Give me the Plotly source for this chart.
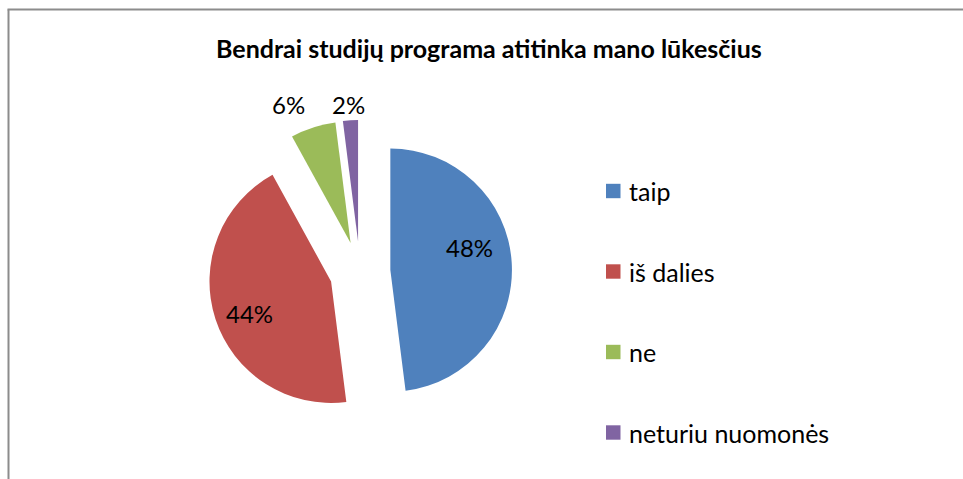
import plotly.graph_objects as go

labels = ["taip", "iš dalies", "ne", "neturiu nuomonės"]
values = [48, 44, 6, 2]
colors = ["#4F81BD", "#C0504D", "#9BBB59", "#8064A2"]
title_text = "Bendrai studijų programa atitinka mano lūkesčius"

W, H = 963, 479
FONT = "Lato"

def px(x):
    return x / W

def py(y):
    return 1 - y / H

total = sum(values)
pct_text = [f"{v / total * 100:.0f}%" for v in values]

fig = go.Figure()
fig.add_trace(go.Pie(
    labels=labels,
    values=values,
    sort=False,
    direction="clockwise",
    rotation=0,
    pull=[0.25, 0.25, 0.25, 0.25],
    marker=dict(colors=colors, line=dict(width=0)),
    textinfo="none",
    textposition="none",
    domain=dict(x=[px(208), px(512)], y=[py(424), py(120)]),
    showlegend=False,
    hoverinfo="label+percent",
))

shapes = [
    dict(type="line", xref="paper", yref="paper", x0=px(8.5), x1=px(8.5), y0=py(H + 2), y1=py(9.5),
         line=dict(color="#8c8c8c", width=2)),
    dict(type="line", xref="paper", yref="paper", x0=px(7.5), x1=px(W + 2), y0=py(9.5), y1=py(9.5),
         line=dict(color="#8c8c8c", width=2)),
]

annotations = [
    dict(text="<b>" + title_text + "</b>", xref="paper", yref="paper", x=px(489), y=py(48),
         xanchor="center", yanchor="middle", showarrow=False,
         font=dict(family=FONT, size=25, color="#000000")),
]

# data label positions (pixel centres)
label_pos = [(469.5, 248), (249.5, 313), (288, 104), (348.5, 104)]
for t, (lx, ly) in zip(pct_text, label_pos):
    annotations.append(dict(text=t, xref="paper", yref="paper", x=px(lx), y=py(ly),
                            xanchor="center", yanchor="middle", showarrow=False,
                            font=dict(family=FONT, size=24, color="#000000")))

legend_y = [191, 271.5, 352, 432.5]
for lab, col, ly in zip(labels, colors, legend_y):
    shapes.append(dict(type="rect", xref="paper", yref="paper",
                       x0=px(606), x1=px(620.5), y0=py(ly + 7.2), y1=py(ly - 7.2),
                       fillcolor=col, line=dict(width=0)))
    annotations.append(dict(text=lab, xref="paper", yref="paper", x=px(627), y=py(ly),
                            xanchor="left", yanchor="middle", showarrow=False,
                            font=dict(family=FONT, size=25, color="#000000")))

fig.update_layout(
    width=W, height=H,
    margin=dict(l=0, r=0, t=0, b=0),
    paper_bgcolor="#ffffff",
    plot_bgcolor="#ffffff",
    shapes=shapes,
    annotations=annotations,
    showlegend=False,
    font=dict(family=FONT),
)

fig.write_html(
    "out.html",
    config={"displayModeBar": False},
    post_script="document.body.style.margin='0px';document.body.style.overflow='hidden';",
)
